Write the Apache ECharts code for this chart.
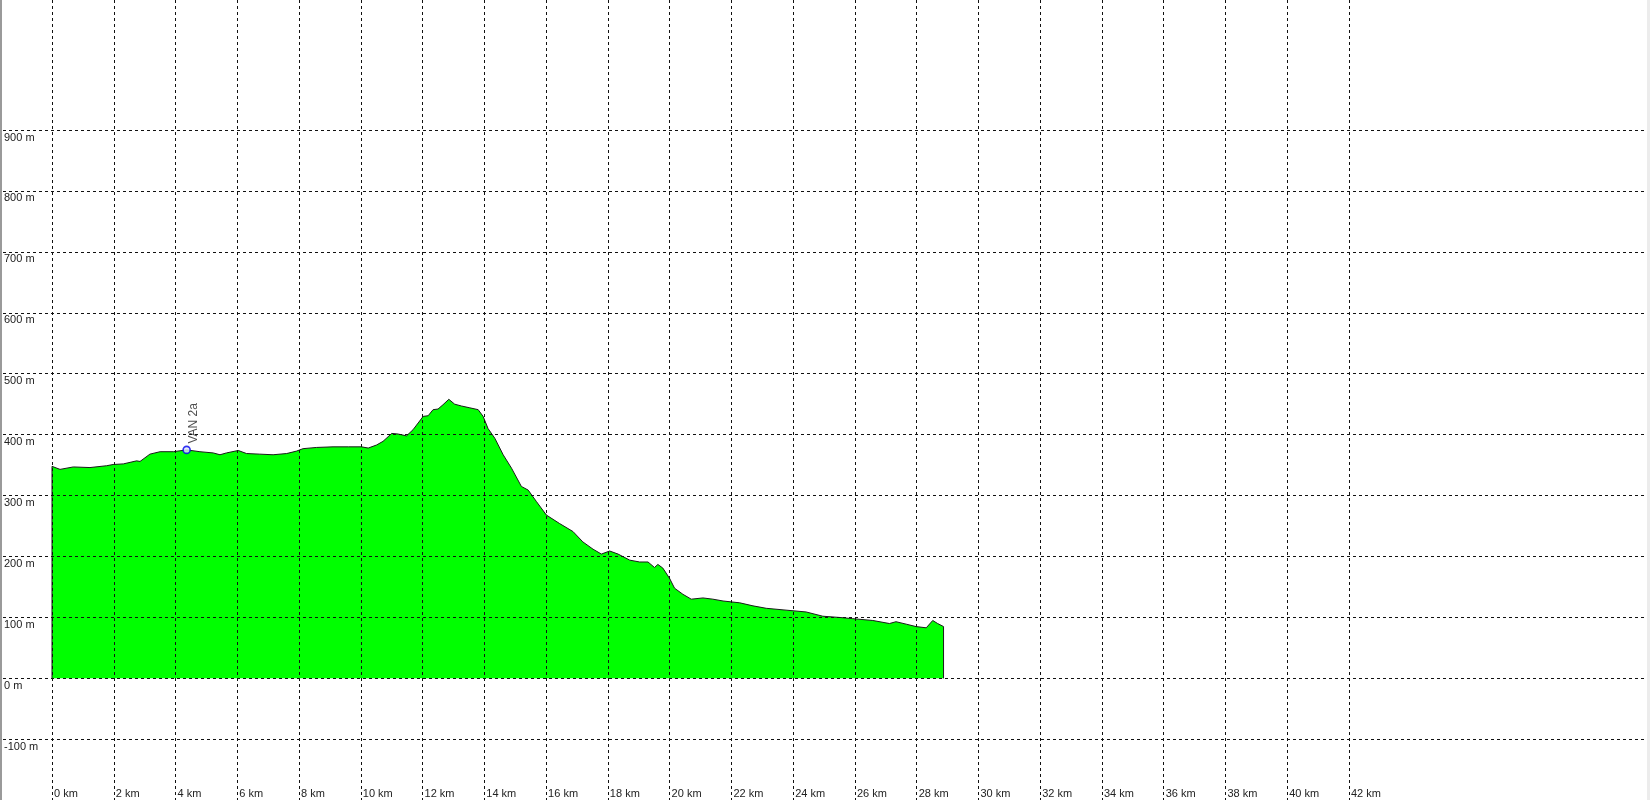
<!DOCTYPE html>
<html>
<head>
<meta charset="utf-8">
<script src="https://cdn.jsdelivr.net/npm/echarts@6/dist/echarts.min.js"></script>
<style>
html,body{margin:0;padding:0;background:#fff;}
#chart{width:1650px;height:800px;}
</style>
</head>
<body>
<div id="chart"></div>
<script>
// Elevation profile (distance in km, elevation in m)
const distKm = [0, 0.26, 0.69, 1.23, 1.77, 1.98, 2.31, 2.74, 2.85, 3.17, 3.50, 3.93, 4.36, 4.79, 5.22, 5.44, 5.65, 6.03, 6.30, 6.73,
  7.16, 7.60, 7.92, 8.13, 8.57, 9.10, 9.60, 10.02, 10.24, 10.51, 10.72, 11.00, 11.21, 11.48, 11.69, 12.02, 12.18, 12.34, 12.50, 12.66,
  12.85, 13.04, 13.26, 13.53, 13.80, 13.96, 14.12, 14.34, 14.61, 14.88, 15.20, 15.42, 15.69, 16.01, 16.44, 16.87, 17.19, 17.52, 17.79, 18.06,
  18.33, 18.71, 19.03, 19.30, 19.51, 19.62, 19.78, 20.00, 20.16, 20.43, 20.70, 21.08, 21.40, 21.73, 22.27, 22.70, 23.13, 23.77, 24.42, 24.96,
  25.50, 25.93, 26.58, 27.12, 27.33, 27.66, 27.98, 28.31, 28.52, 28.68, 28.87];
const elevM = [348, 343, 347, 346, 349, 351, 352, 357, 356, 368, 372, 372, 375, 372, 370, 367, 370, 374, 369, 368,
  367, 369, 373, 377, 379, 380, 380, 380, 378, 383, 389, 402, 401, 398, 408, 430, 431, 441, 442, 449,
  458, 450, 447, 444, 441, 430, 410, 394, 367, 345, 315, 309, 290, 268, 254, 241, 224, 212, 204, 209,
  204, 194, 191, 191, 182, 187, 181, 164, 148, 138, 130, 132, 130, 127, 124, 119, 115, 112, 109, 102,
  100, 98, 95, 90, 93, 89, 85, 83, 95, 90, 85];
// Waypoint
const waypointName = ['VAN 2a'];
const waypointKm = [4.36];
const waypointElev = [375];
// Axis ticks
const xTickMin = 0, xTickMax = 42, xTickStep = 2;
const yTickMin = -100, yTickMax = 900, yTickStep = 100;

const profile = [[distKm[0], 0]];
for (let i = 0; i < distKm.length; i++) profile.push([distKm[i], elevM[i]]);
profile.push([distKm[distKm.length - 1], 0]);

const FONT = 'Liberation Sans, Arial, sans-serif';
const gridLine = { show: true, lineStyle: { color: '#111111', width: 1, type: [3, 3] } };

const chart = echarts.init(document.getElementById('chart'), null, { renderer: 'canvas' });
chart.setOption({
  animation: false,
  backgroundColor: '#ffffff',
  grid: [
    { left: 52, right: 301, top: 130, bottom: 60.7 },   // data
    { left: 52, right: 301, top: 0, bottom: 0 },        // vertical grid lines + km labels
    { left: 3, right: 5, top: 130, bottom: 60.7 }       // horizontal grid lines + m labels
  ],
  xAxis: [
    { gridIndex: 0, type: 'value', min: xTickMin, max: xTickMax, show: false },
    { gridIndex: 1, type: 'value', min: xTickMin, max: xTickMax, interval: xTickStep, z: 5,
      axisLine: { show: false }, axisTick: { show: false }, splitLine: gridLine,
      axisLabel: { inside: true, margin: 1, align: 'left', verticalAlign: 'bottom', padding: [0, 0, 0, 2],
        fontFamily: FONT, fontSize: 11, color: '#222', formatter: v => v + ' km', showMaxLabel: true, showMinLabel: true } },
    { gridIndex: 2, type: 'value', min: 0, max: 1, show: false }
  ],
  yAxis: [
    { gridIndex: 0, type: 'value', min: yTickMin, max: yTickMax, show: false },
    { gridIndex: 1, type: 'value', min: 0, max: 1, show: false },
    { gridIndex: 2, type: 'value', min: yTickMin, max: yTickMax, interval: yTickStep, z: 5,
      axisLine: { show: false }, axisTick: { show: false }, splitLine: gridLine,
      axisLabel: { inside: true, margin: 1, align: 'left', verticalAlign: 'top', padding: [2, 0, 0, 0],
        fontFamily: FONT, fontSize: 11, color: '#222', formatter: v => v + ' m', showMaxLabel: true, showMinLabel: true } }
  ],
  series: [
    { type: 'line', xAxisIndex: 0, yAxisIndex: 0, data: profile, showSymbol: false, symbol: 'none',
      lineStyle: { color: '#1a1a1a', width: 1 }, areaStyle: { color: '#00ff00', opacity: 1, origin: 0 }, z: 2 },
    { type: 'scatter', xAxisIndex: 0, yAxisIndex: 0, z: 6,
      data: waypointKm.map((k, i) => ({ value: [k, waypointElev[i]], name: waypointName[i] })),
      symbol: 'circle', symbolSize: 7,
      itemStyle: { color: '#dfe8ff', borderColor: '#0000ee', borderWidth: 1.6 },
      label: { show: true, position: 'top', distance: 2, rotate: 90, align: 'left', verticalAlign: 'middle',
        offset: [0, 7], formatter: p => p.name, fontFamily: FONT, fontSize: 12, color: '#222' } }
  ],
  graphic: [
    { type: 'rect', shape: { x: 0, y: 0, width: 2, height: 800 }, style: { fill: '#9a9a9a' }, z: 100 },
    { type: 'rect', shape: { x: 1647, y: 0, width: 3, height: 800 }, style: { fill: '#ececec' }, z: 100 }
  ]
});
</script>
</body>
</html>
